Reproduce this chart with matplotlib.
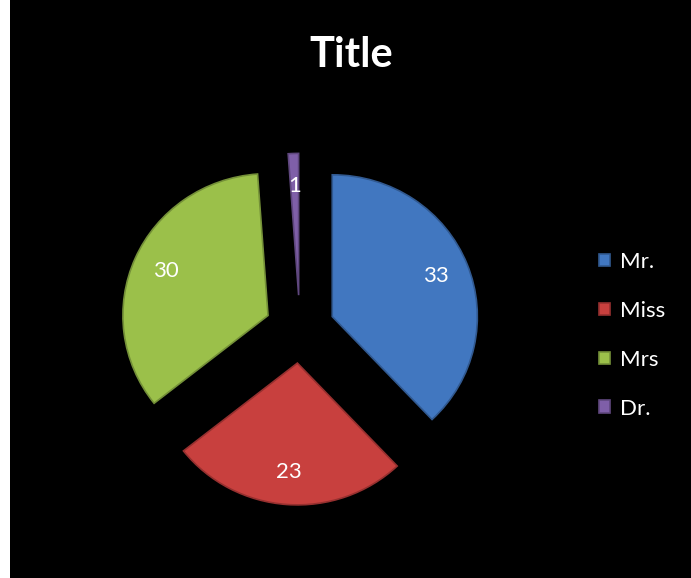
import matplotlib.pyplot as plt
from matplotlib.patches import Rectangle
from matplotlib.colors import to_rgb

labels = ['Mr.', 'Miss', 'Mrs', 'Dr.']
values = [33, 23, 30, 1]
colors = ['#4177c0', '#c8403e', '#9bc04a', '#7f5fa8']

plt.rcParams['font.family'] = ['Lato', 'DejaVu Sans']

fig = plt.figure(figsize=(6.91, 5.78), dpi=100, facecolor='white')
# black chart area, thin white strip on the left
fig.add_artist(Rectangle((10 / 691, 0), 1, 1, transform=fig.transFigure,
                         facecolor='black', edgecolor='none', zorder=-10))

ax = fig.add_axes([0.119, 0.054, 0.63, 0.753])
ax.set_facecolor('none')

total = sum(values)
edges = [tuple(c * 0.75 for c in to_rgb(col)) for col in colors]
wedges, texts, autotexts = ax.pie(
    values, colors=colors, explode=[0.24] * len(values),
    startangle=90, counterclock=False, radius=1,
    autopct=lambda p: f'{p * total / 100:.0f}', pctdistance=0.77,
    textprops=dict(color='white', fontsize=16, family=['Lato', 'DejaVu Sans']))
for w, ec in zip(wedges, edges):
    w.set_edgecolor(ec)
    w.set_linewidth(1.2)

# slightly flattened vertically, like a tilted pie
ax.set_xlim(-1.5, 1.5)
ax.set_ylim(-1.535, 1.535)
ax.set_aspect('auto')
ax.axis('off')

fig.text(351 / 691, 1 - 55 / 578, 'Title', color='white', fontsize=30,
         fontweight='bold', ha='center', va='center')

leg = fig.legend(wedges, labels, loc='upper left',
                 bbox_to_anchor=(599 / 691, 1 - 252 / 578),
                 frameon=False, fontsize=16, labelcolor='white',
                 handlelength=0.5, handleheight=0.5, handletextpad=0.45,
                 labelspacing=1.3, borderpad=0, borderaxespad=0)

fig.savefig('out.png', dpi=100, facecolor=fig.get_facecolor())
